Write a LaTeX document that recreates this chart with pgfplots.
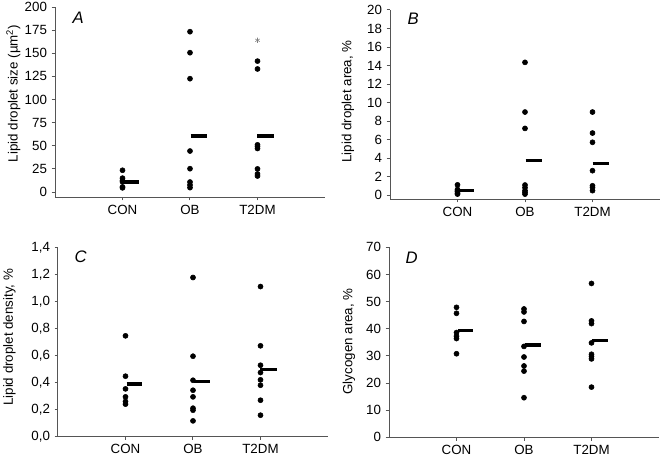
\documentclass[border=0pt]{standalone}
\usepackage{fontspec}
\setmainfont{Liberation Sans}
\usepackage{pgfplots}
\pgfplotsset{compat=1.18}
\definecolor{axgray}{RGB}{85,85,85}
\tikzset{letter/.style={anchor=west, font=\fontsize{12.5}{14}\selectfont\itshape}}
\pgfplotsset{
 panel/.style={
  scale only axis, width=202.5pt,
  anchor=south west,
  xmin=0, xmax=4, xtick={1,2,3}, xticklabels={CON,OB,T2DM},
  axis x line*=bottom, axis y line*=left,
  axis line style={axgray, line width=0.75pt},
  every tick/.style={axgray, line width=0.75pt},
  major tick length=2.5pt,
  tick align=outside,
  font=\fontsize{10}{12}\selectfont,
  /pgf/number format/assume math mode=true,
  ticklabel style={font=\fontsize{10}{12}\selectfont},
  clip=false,
 },
 dots/.style={only marks, mark=*, mark size=1.9pt, black},
 med/.style={black, line width=2.5pt, no markers},
}
\begin{document}
\begin{tikzpicture}
\path[use as bounding box] (0,0) rectangle (495pt,343.5pt);
% Panel A
\begin{axis}[panel, at={(41.25pt,195.75pt)}, height=142.5pt,
  ymin=-5.4, ymax=200, ytick={0,25,...,200},
  ylabel={Lipid droplet size (µm\textsuperscript{2})},
  ylabel style={at={(axis description cs:-0.154,0.545)}, anchor=center}]
\addplot[dots] coordinates {(1,23.5) (1,15) (1,12.5) (1,11) (1,5.5) (1,4.5)};
\addplot[dots] coordinates {(2,173.3) (2,150.6) (2,122.5) (2,44.3) (2,25.2) (2,10.8) (2,7.6) (2,4.7)};
\addplot[dots] coordinates {(3,141.5) (3,133) (3,51) (3,49) (3,47) (3,25) (3,19.5) (3,17.3)};
\addplot[only marks, mark=asterisk, mark size=2pt, gray] coordinates {(3,164)};
\addplot[med] coordinates {(1.015,10.8) (1.24,10.8)};
\addplot[med] coordinates {(2.01,60.5) (2.25,60.5)};
\addplot[med] coordinates {(3.0,60.5) (3.24,60.5)};
\node[letter] at (rel axis cs:0.048,0.945) {A};
\end{axis}
% Panel B
\begin{axis}[panel, at={(292.5pt,194.25pt)}, height=141.75pt,
  ymin=-0.43, ymax=20, ytick={0,2,...,20},
  ylabel={Lipid droplet area, \%},
  ylabel style={at={(axis description cs:-0.156,0.516)}, anchor=center}]
\addplot[dots] coordinates {(1,1.1) (1,0.6) (1,0.45) (1,0.35) (1,0.2) (1,0.1)};
\addplot[dots] coordinates {(2,14.34) (2,8.97) (2,7.2) (2,1.08) (2,0.79) (2,0.47) (2,0.3) (2,0.1)};
\addplot[dots] coordinates {(3,8.97) (3,6.7) (3,5.7) (3,2.63) (3,1.0) (3,0.79) (3,0.47)};
\addplot[med] coordinates {(1.015,0.47) (1.24,0.47)};
\addplot[med] coordinates {(2.01,3.7) (2.25,3.7)};
\addplot[med] coordinates {(3.0,3.39) (3.24,3.39)};
\node[letter] at (rel axis cs:0.048,0.952) {B};
\end{axis}
% Panel C
\begin{axis}[panel, at={(43.5pt,16.1pt)}, height=141.75pt,
  ymin=0, ymax=1.4, ytick={0,0.2,...,1.4},
  yticklabel style={/pgf/number format/.cd, fixed, fixed zerofill, precision=1, use comma},
  ylabel={Lipid droplet density, \%},
  ylabel style={at={(axis description cs:-0.18,0.525)}, anchor=center}]
\addplot[dots] coordinates {(1,0.746) (1,0.447) (1,0.353) (1,0.294) (1,0.26) (1,0.24)};
\addplot[dots] coordinates {(2,1.178) (2,0.595) (2,0.417) (2,0.343) (2,0.294) (2,0.21) (2,0.195) (2,0.116)};
\addplot[dots] coordinates {(3,1.111) (3,0.672) (3,0.528) (3,0.474) (3,0.42) (3,0.38) (3,0.269) (3,0.158)};
\addplot[med] coordinates {(1.015,0.39) (1.24,0.39)};
\addplot[med] coordinates {(2.01,0.407) (2.25,0.407)};
\addplot[med] coordinates {(3.0,0.499) (3.24,0.499)};
\node[letter] at (rel axis cs:0.044,0.95) {C};
\end{axis}
% Panel D
\begin{axis}[panel, at={(291.75pt,15.5pt)}, height=142.5pt,
  ymin=0, ymax=70, ytick={0,10,...,70},
  ylabel={Glycogen area, \%},
  ylabel style={at={(axis description cs:-0.148,0.505)}, anchor=center}]
\addplot[dots] coordinates {(1,47.9) (1,45.7) (1,38.6) (1,37.3) (1,36.4) (1,30.8)};
\addplot[dots] coordinates {(2,47.3) (2,46.2) (2,42.7) (2,33.5) (2,29.6) (2,26.3) (2,24.4) (2,14.6)};
\addplot[dots] coordinates {(3,56.7) (3,42.9) (3,41.9) (3,34.8) (3,30.6) (3,29.8) (3,28.9) (3,18.5)};
\addplot[med] coordinates {(1.015,39.4) (1.24,39.4)};
\addplot[med] coordinates {(2.01,34) (2.25,34)};
\addplot[med] coordinates {(3.0,35.6) (3.24,35.6)};
\node[letter] at (rel axis cs:0.044,0.946) {D};
\end{axis}
\end{tikzpicture}
\end{document}
